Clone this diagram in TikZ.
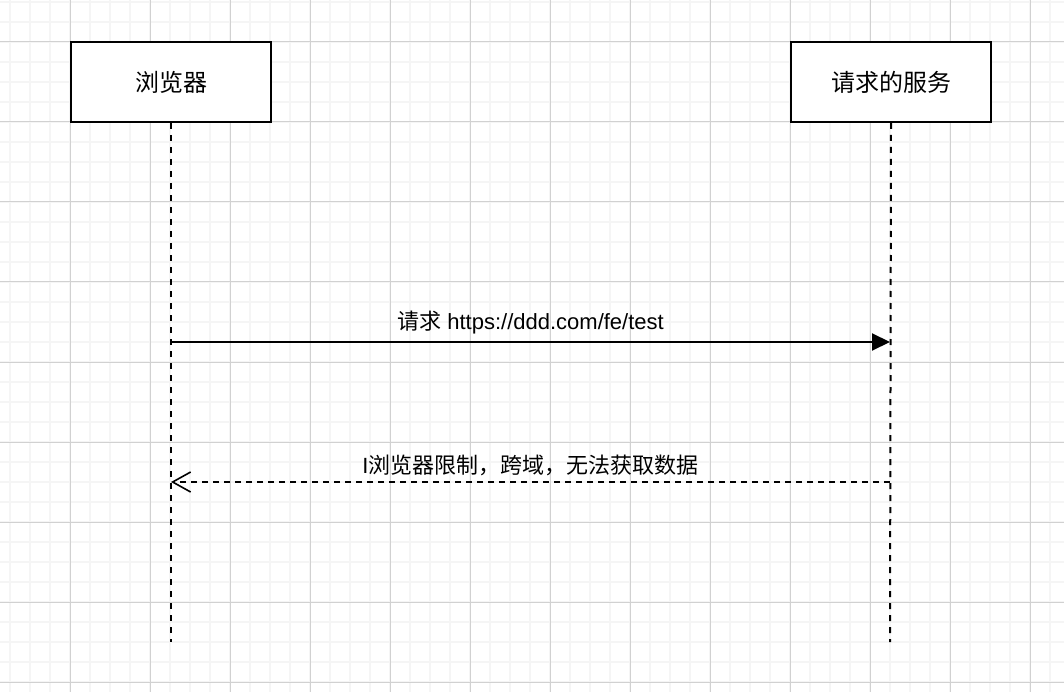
\documentclass[tikz,border=0pt]{standalone}
\usepackage{fontspec}
\setmainfont{Liberation Sans}
\newfontfamily\cjk{Noto Sans CJK SC}
\usetikzlibrary{positioning,arrows.meta}

\begin{document}
\begin{tikzpicture}[x=1pt, y=-1pt,
        actor/.style={draw, line width=2pt, rectangle, fill=white, minimum width=200pt, minimum height=80pt, align=center, font=\cjk\fontsize{24}{28}\selectfont},
        lifeline/.style={line width=2pt, dash pattern=on 6pt off 6pt},
        msglabel/.style={font=\fontsize{22}{26}\selectfont, inner sep=0pt},
        minorgrid/.style={draw=black!4, line width=1.5pt},
        majorgrid/.style={draw=black!18, line width=1pt},
        >=stealth
    ]
        \useasboundingbox (0,0) rectangle (1064,692);
        \fill[white] (0,0) rectangle (1064,692);

        % grid
        \foreach \gx in {10,30,...,1050} \draw[minorgrid] (\gx,0) -- (\gx,692);
        \foreach \gy in {2,22,...,682} \draw[minorgrid] (0,\gy) -- (1064,\gy);
        \foreach \gx in {70,150,...,1030} \draw[majorgrid] (\gx,0) -- (\gx,692);
        \foreach \gy in {42,122,...,682} \draw[majorgrid] (0,\gy) -- (1064,\gy);

        \node [actor] (browser) at (171,82) {浏览器};
        \node [actor] (server) at (891,82) {请求的服务};
        \coordinate (browserend) at (171,642);
        \coordinate (serverend) at (890,642);

        % lifelines
        \draw [lifeline] (browser.south) -- (browserend);
        \draw [lifeline] (server.south) -- (serverend);

        \coordinate (reqfrom) at (171,342);
        \coordinate (reqto) at (890,342);
        \coordinate (respfrom) at (890,482);
        \coordinate (respto) at (171,482);

        \draw [line width=2pt, -{Triangle[length=18pt,width=17pt]}] (reqfrom) -- node[msglabel, yshift=19pt]{{\cjk 请求} https://ddd.com/fe/test} (reqto);
        \draw [line width=1.8pt, dash pattern=on 6pt off 5pt, -{Straight Barb[length=18pt,width=20pt,line width=1.6pt]}] (respfrom) -- node[msglabel, yshift=17pt]{I{\cjk 浏览器限制，跨域，无法获取数据}} (respto);
    \end{tikzpicture}
\end{document}
